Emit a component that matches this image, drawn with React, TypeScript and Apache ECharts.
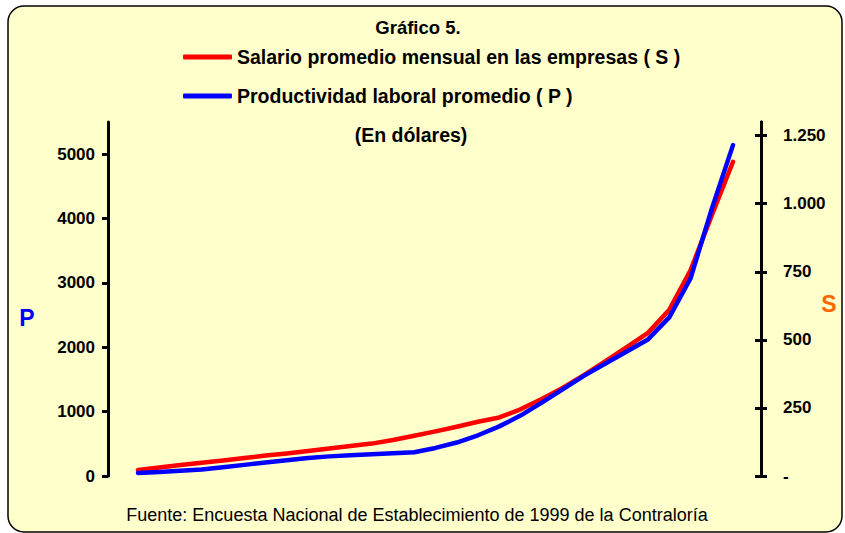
import React, { useEffect, useRef } from "react";
import * as echarts from "echarts";

// Sample positions along the (hidden) horizontal axis
const categories: string[] = Array.from({ length: 29 }, (_, i) => String(i + 1));

// Salario promedio mensual (S, right axis, USD)
const salario: number[] = [
  22, 31, 40, 49, 57, 66, 75, 83, 92, 101, 110, 119, 132, 148, 164, 181, 199,
  215, 245, 283, 324, 371, 422, 473, 526, 610, 755, 957, 1154,
];

// Productividad laboral promedio (P, left axis, USD)
const productividad: number[] = [
  47, 64, 81, 101, 137, 173, 209, 245, 280, 305, 323, 338, 354, 369, 436, 520,
  633, 771, 939, 1139, 1351, 1560, 1747, 1935, 2122, 2465, 3069, 4150, 5141,
];

const leftTicks: number[] = [0, 1000, 2000, 3000, 4000, 5000];
const rightTicks: number[] = [0, 250, 500, 750, 1000, 1250];

const titleText = "Gráfico 5.";
const subText = "(En dólares)";
const sourceText =
  "Fuente: Encuesta Nacional de Establecimiento de 1999 de la Contraloría";
const seriesS = "Salario promedio mensual en las empresas ( S )";
const seriesP = "Productividad laboral promedio ( P )";

const FONT = "'Liberation Sans', Arial, sans-serif";

function fmtRight(v: number): string {
  if (v === 0) return "-";
  if (v >= 1000) {
    return Math.floor(v / 1000) + "." + String(v % 1000).padStart(3, "0");
  }
  return String(v);
}

export default function App() {
  const ref = useRef<HTMLDivElement>(null);

  useEffect(() => {
    if (!ref.current) return;
    const chart = echarts.init(ref.current, null, { renderer: "svg" });

    const rightAxisBase = {
      type: "value",
      position: "right",
      min: 0,
      max: 1300,
      offset: 28,
      splitLine: { show: false },
      axisLine: { show: true, lineStyle: { color: "#000", width: 3 } },
    };

    const legendText = { fontFamily: FONT, fontWeight: "bold", fontSize: 19.5, color: "#000" };

    chart.setOption({
      animation: false,
      backgroundColor: "transparent",
      graphic: [
        {
          type: "rect",
          z: -10,
          shape: { x: 8, y: 6, width: 834, height: 526, r: 16 },
          style: { fill: "#FFFFCC", stroke: "#000", lineWidth: 1.5 },
        },
        {
          type: "text",
          x: 27,
          y: 318,
          style: {
            text: "P",
            fill: "#0000FF",
            font: `bold 23px ${FONT}`,
            align: "center",
            verticalAlign: "middle",
          },
        },
        {
          type: "text",
          x: 829,
          y: 304,
          style: {
            text: "S",
            fill: "#FF6600",
            font: `bold 23px ${FONT}`,
            align: "center",
            verticalAlign: "middle",
          },
        },
      ],
      title: [
        {
          text: titleText,
          left: 413,
          top: 13,
          textAlign: "center",
          textStyle: { fontFamily: FONT, fontWeight: "bold", fontSize: 18.5, color: "#000" },
        },
        {
          text: subText,
          left: 406,
          top: 120,
          textAlign: "center",
          textStyle: { fontFamily: FONT, fontWeight: "bold", fontSize: 19.5, color: "#000" },
        },
        {
          text: sourceText,
          left: 412,
          top: 501,
          textAlign: "center",
          textStyle: { fontFamily: FONT, fontWeight: "normal", fontSize: 18, color: "#000" },
        },
      ],
      legend: [
        {
          data: [seriesS],
          left: 183,
          top: 47,
          padding: 0,
          icon: "roundRect",
          itemWidth: 49,
          itemHeight: 5,
          selectedMode: false,
          textStyle: legendText,
        },
        {
          data: [seriesP],
          left: 183,
          top: 86,
          padding: 0,
          icon: "roundRect",
          itemWidth: 49,
          itemHeight: 5,
          selectedMode: false,
          textStyle: legendText,
        },
      ],
      grid: { left: 138, right: 112, top: 122, bottom: 57 },
      xAxis: {
        type: "category",
        data: categories,
        boundaryGap: false,
        show: false,
      },
      yAxis: [
        {
          type: "value",
          position: "left",
          min: 0,
          max: 5500,
          offset: 30,
          splitLine: { show: false },
          axisLine: { show: true, lineStyle: { color: "#000", width: 3 } },
          axisTick: {
            show: true,
            customValues: leftTicks,
            length: 6,
            lineStyle: { color: "#000", width: 3 },
          },
          axisLabel: {
            customValues: leftTicks,
            margin: 13,
            fontFamily: FONT,
            fontWeight: "bold",
            fontSize: 17,
            color: "#000",
            formatter: (v: number) => String(v),
          },
        },
        {
          ...rightAxisBase,
          axisTick: {
            show: true,
            customValues: rightTicks,
            length: 6,
            lineStyle: { color: "#000", width: 3 },
          },
          axisLabel: {
            customValues: rightTicks,
            margin: 22,
            fontFamily: FONT,
            fontWeight: "bold",
            fontSize: 17,
            color: "#000",
            formatter: (v: number) => fmtRight(v),
          },
        },
        {
          ...rightAxisBase,
          axisTick: {
            show: true,
            inside: true,
            customValues: rightTicks,
            length: 6,
            lineStyle: { color: "#000", width: 3 },
          },
          axisLabel: { show: false },
        },
      ],
      series: [
        {
          name: seriesS,
          type: "line",
          yAxisIndex: 1,
          data: salario,
          showSymbol: false,
          symbol: "none",
          color: "#FF0000",
          lineStyle: { color: "#FF0000", width: 4.5, cap: "round", join: "round" },
          z: 2,
        },
        {
          name: seriesP,
          type: "line",
          yAxisIndex: 0,
          data: productividad,
          showSymbol: false,
          symbol: "none",
          color: "#0000FF",
          lineStyle: { color: "#0000FF", width: 4.5, cap: "round", join: "round" },
          z: 3,
        },
      ],
    });

    return () => chart.dispose();
  }, []);

  return (
    <div
      ref={ref}
      style={{
        position: "fixed",
        left: 0,
        top: 0,
        width: 845,
        height: 533,
        background: "#FFFFFF",
      }}
    />
  );
}
